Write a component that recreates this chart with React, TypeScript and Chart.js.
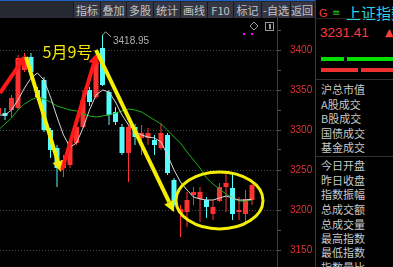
import React, { useEffect, useRef } from 'react';
import { Chart, registerables } from 'chart.js';

Chart.register(...registerables);

// ---- candle data (index 0 is partly cut off at the left edge) ----
const opens = [3320, 3321.25, 3325, 3327.5, 3375, 3391.25, 3350, 3362.5, 3300, 3277.5, 3252.5, 3256.25, 3283.75, 3303.75, 3350, 3341.25, 3402.5, 3347.5, 3322.5, 3303.75, 3271.25, 3303.75, 3290, 3290, 3287.5, 3277.5, 3293.75, 3237.5, 3196.25, 3197.5, 3218.75, 3213.75, 3212.5, 3195, 3211.25, 3228.75, 3227.5, 3197.5, 3195, 3212.5];
const highs = [3330, 3327.5, 3343.75, 3393.75, 3396.25, 3396.25, 3353.75, 3366.25, 3302.5, 3281.25, 3268.75, 3287.5, 3307.5, 3350, 3353.75, 3390, 3418.95, 3350, 3328.75, 3307.5, 3306.25, 3307.5, 3306.25, 3302.5, 3293.75, 3308.75, 3296.25, 3240, 3206.25, 3222.5, 3228.75, 3228.75, 3216.25, 3212.5, 3233.75, 3246.25, 3246.25, 3216.25, 3225, 3232];
const lows = [3317.5, 3312.5, 3316.25, 3325, 3372.5, 3365, 3337.5, 3297.5, 3265, 3228.75, 3241.25, 3252.5, 3281.25, 3302.5, 3330, 3338.75, 3355, 3306.25, 3306.25, 3268.75, 3235, 3281.25, 3268.75, 3281.25, 3268.75, 3275, 3243.75, 3203.75, 3166.25, 3178.75, 3206.25, 3185, 3190, 3187.5, 3210, 3197.5, 3187.5, 3187.5, 3181.25, 3206.25];
const closes = [3327.5, 3317.5, 3340, 3390, 3391.25, 3372.5, 3341.25, 3300, 3275, 3252.5, 3262.5, 3285, 3303.75, 3337.5, 3335, 3385, 3356.25, 3318.75, 3310, 3271.25, 3303.75, 3291.25, 3296.25, 3296.25, 3281.25, 3296.25, 3246.25, 3206.25, 3201.25, 3212.5, 3222.5, 3222.5, 3203.75, 3203.75, 3228.75, 3233.75, 3195, 3200, 3213.75, 3231.41];

// ---- moving averages ----
const ma5 = [3318.75, 3318.75, 3325, 3337.5, 3352.5, 3365, 3371.25, 3362.5, 3341.25, 3316.25, 3293.75, 3278.75, 3283.75, 3302.5, 3325, 3343.75, 3350, 3347.5, 3335, 3318.75, 3306.25, 3298.75, 3293.75, 3291.25, 3290, 3285, 3268.75, 3250, 3235, 3225, 3216.25, 3213.75, 3212.5, 3212.5, 3215, 3217.5, 3215, 3212.5, 3212.5, 3213.75];
const ma10 = [3300, 3307.5, 3315, 3325, 3332.5, 3337.5, 3341.25, 3338.75, 3335, 3330, 3327.5, 3325, 3323.75, 3320, 3317.5, 3316.25, 3317.5, 3318.75, 3321.25, 3323.75, 3326.25, 3325, 3322.5, 3317.5, 3312.5, 3307.5, 3300, 3291.25, 3283.75, 3272.5, 3262.5, 3252.5, 3240, 3232.5, 3226.25, 3220, 3215, 3211.25, 3211.25, 3212.5];

// ---- axis ----
const yTickValues = [3150, 3175, 3200, 3225, 3250, 3275, 3300, 3325, 3350, 3375, 3400, 3425];
const yLabelStep = 50;
const xRange = [0.2308, 42.846];
const yRange = [3128.75, 3440];

// ---- hand-drawn annotations, in data coordinates [index, price] ----
const arrowFrom = [[0.231, 3346.25], [4.231, 3391.25], [9.77, 3250], [15.0, 3400]];
const arrowTo = [[4.231, 3393.75], [9.615, 3247.5], [15.154, 3396.25], [27.0, 3197.5]];
const arrowColors = ['#ff1a1a', '#f4ee00', '#ff1a1a', '#f4ee00'];
const ellipseCenter = [34.0, 3212];
const ellipseRadii = [6.69, 35.6];
const noteText = '5月9号';
const notePos = [10.615, 3398];
const peakText = '3418.95';

// ---- UI texts ----
const toolbarLabels = ['指标', '叠加', '多股', '统计', '画线', 'F10', '标记', '-自选', '返回'];
const toolbarEdges = [73, 100, 126, 153, 180, 207, 233, 261, 290, 313];
const panelTitle = '上证指数';
const lastPrice = '3231.41';
const panelGroupA = ['沪总市值', 'A股成交', 'B股成交', '国债成交', '基金成交'];
const panelGroupAY = [88.5, 103.5, 118, 132.5, 147];
const panelGroupB = ['今日开盘', '昨日收盘', '指数振幅', '总成交额', '总成交量', '最高指数', '最低指数', '指数量比'];
const panelGroupBY = [164.5, 179.5, 193.5, 209, 223.5, 237.5, 252, 266.5];

const UP = '#ff3232';
const DOWN = '#54fcfc';
const YELLOW = '#f4ee00';

function drawArrow(ctx: CanvasRenderingContext2D, x1: number, y1: number, x2: number, y2: number, color: string) {
  const headLen = 11;
  const headHalf = 5.5;
  const ang = Math.atan2(y2 - y1, x2 - x1);
  const bx = x2 - headLen * Math.cos(ang);
  const by = y2 - headLen * Math.sin(ang);
  ctx.strokeStyle = color;
  ctx.lineWidth = 4;
  ctx.lineCap = 'butt';
  ctx.beginPath();
  ctx.moveTo(x1, y1);
  ctx.lineTo(bx, by);
  ctx.stroke();
  ctx.fillStyle = color;
  ctx.beginPath();
  ctx.moveTo(x2, y2);
  ctx.lineTo(bx + headHalf * Math.sin(ang), by - headHalf * Math.cos(ang));
  ctx.lineTo(bx - headHalf * Math.sin(ang), by + headHalf * Math.cos(ang));
  ctx.closePath();
  ctx.fill();
}

export default function App() {
  const canvasRef = useRef<HTMLCanvasElement | null>(null);

  useEffect(() => {
    const canvas = canvasRef.current;
    if (!canvas) return;
    const colors = closes.map((c, i) => (c >= opens[i] ? UP : DOWN));

    const overlay = {
      id: 'overlay',
      afterDatasetsDraw(chart: any) {
        const ctx: CanvasRenderingContext2D = chart.ctx;
        const xs = chart.scales.x;
        const ys = chart.scales.y;
        const px = (v: number) => xs.getPixelForValue(v);
        const py = (v: number) => ys.getPixelForValue(v);
        ctx.save();
        arrowFrom.forEach((f, k) => {
          const t = arrowTo[k];
          drawArrow(ctx, px(f[0]), py(f[1]), px(t[0]), py(t[1]), arrowColors[k]);
        });
        const cx = px(ellipseCenter[0]);
        const cy = py(ellipseCenter[1]);
        const rx = px(ellipseCenter[0] + ellipseRadii[0]) - cx;
        const ry = py(ellipseCenter[1] - ellipseRadii[1]) - cy;
        ctx.strokeStyle = YELLOW;
        ctx.lineWidth = 3;
        ctx.beginPath();
        ctx.ellipse(cx, cy, rx, ry, 0, 0, Math.PI * 2);
        ctx.stroke();
        ctx.fillStyle = '#f2e800';
        ctx.font = '16px "Noto Sans CJK SC", sans-serif';
        ctx.textAlign = 'center';
        ctx.textBaseline = 'middle';
        ctx.fillText(noteText, px(notePos[0]), py(notePos[1]));
        let hi = 0;
        highs.forEach((h, i) => { if (h > highs[hi]) hi = i; });
        const hx = px(hi);
        const hy = py(highs[hi]);
        ctx.strokeStyle = '#a8a8a8';
        ctx.lineWidth = 1;
        ctx.beginPath();
        ctx.moveTo(hx + 0.5, hy);
        ctx.lineTo(hx + 3, hy - 3);
        ctx.lineTo(hx + 8.5, hy + 2);
        ctx.stroke();
        ctx.fillStyle = '#b0b0b0';
        ctx.font = '10px "Liberation Sans", sans-serif';
        ctx.textAlign = 'left';
        ctx.textBaseline = 'middle';
        ctx.fillText(peakText, hx + 10.5, hy + 6);
        ctx.fillStyle = '#ff00ff';
        ctx.fillRect(243, 15, 2, 2);
        ctx.fillRect(251, 15, 2, 2);
        ctx.strokeStyle = '#9a9a9a';
        ctx.beginPath();
        ctx.moveTo(254, 4);
        ctx.lineTo(258, 8);
        ctx.lineTo(254, 12);
        ctx.lineTo(250, 8);
        ctx.closePath();
        ctx.stroke();
        ctx.strokeRect(265.5, 4.5, 8, 8);
        ctx.fillStyle = '#9a9a9a';
        ctx.fillRect(269, 6, 2, 5);
        ctx.restore();
      },
    };

    const chart = new Chart(canvas, {
      type: 'bar',
      data: {
        datasets: [
          {
            type: 'line',
            label: 'MA5',
            data: ma5.map((v, i) => ({ x: i, y: v })),
            borderColor: '#d6d6d6',
            borderWidth: 1,
            pointRadius: 0,
            tension: 0,
            order: 0,
          } as any,
          {
            type: 'line',
            label: 'MA10',
            data: ma10.map((v, i) => ({ x: i, y: v })),
            borderColor: '#1cb01c',
            borderWidth: 1,
            pointRadius: 0,
            tension: 0,
            order: 0,
          } as any,
          {
            type: 'bar',
            label: 'wick',
            data: lows.map((l, i) => ({ x: i, y: [l, highs[i]] })),
            backgroundColor: colors,
            grouped: false,
            maxBarThickness: 1,
            order: 2,
          } as any,
          {
            type: 'bar',
            label: 'body',
            data: opens.map((o, i) => ({ x: i, y: [o, closes[i]] })),
            backgroundColor: colors,
            grouped: false,
            barPercentage: 0.77,
            categoryPercentage: 1,
            minBarLength: 1,
            order: 1,
          } as any,
        ],
      },
      options: {
        animation: false,
        responsive: false,
        maintainAspectRatio: false,
        devicePixelRatio: 1,
        layout: { padding: 0 },
        plugins: { legend: { display: false }, tooltip: { enabled: false } },
        scales: {
          x: {
            type: 'linear',
            min: xRange[0],
            max: xRange[1],
            display: false,
            offset: false,
          },
          y: {
            type: 'linear',
            position: 'right',
            min: yRange[0],
            max: yRange[1],
            afterBuildTicks: (s: any) => {
              s.ticks = yTickValues.map((v) => ({ value: v }));
            },
            afterFit: (s: any) => {
              s.width = 38;
              s.paddingTop = 0;
              s.paddingBottom = 0;
            },
            ticks: {
              autoSkip: false,
              color: '#e03434',
              padding: 9,
              font: { size: 10, family: '"Liberation Sans", sans-serif' },
              callback: (v: any) => (Number(v) % yLabelStep === 0 ? String(v) : ''),
            },
            grid: {
              color: (c: any) => (c.tick && c.tick.value % yLabelStep === 0 ? '#4a4a4a' : 'rgba(0,0,0,0)'),
              tickColor: '#555555',
              tickLength: 4,
              lineWidth: 1,
            },
            border: { display: true, color: '#3c3c3c', width: 1, dash: [1, 2] },
          },
        },
      } as any,
      plugins: [overlay],
    });
    return () => chart.destroy();
  }, []);

  const cjk = '"Noto Sans CJK SC", "Liberation Sans", sans-serif';

  return (
    <div style={{ position: 'fixed', left: 0, top: 0, width: 393, height: 267, background: '#000', overflow: 'hidden', fontFamily: cjk }}>
      {/* toolbar */}
      <div style={{ position: 'absolute', left: 0, top: 0, width: 315, height: 18, background: '#262932', borderTop: '1px solid #1b62c2', boxSizing: 'border-box' }} />
      {toolbarLabels.map((t, i) => (
        <div
          key={t}
          style={{
            position: 'absolute',
            left: toolbarEdges[i] + 1,
            top: 2,
            width: toolbarEdges[i + 1] - toolbarEdges[i] - 1,
            height: 16,
            lineHeight: '16px',
            background: '#343743',
            color: '#c4c4c4',
            fontSize: 11,
            textAlign: 'center',
            whiteSpace: 'nowrap',
          }}
        >
          {t}
        </div>
      ))}
      {toolbarEdges.map((x) => (
        <div key={'s' + x} style={{ position: 'absolute', left: x, top: 2, width: 1, height: 16, background: '#17191e' }} />
      ))}
      <canvas ref={canvasRef} width={315} height={249} style={{ position: 'absolute', left: 0, top: 18, width: 315, height: 249 }} />
      {/* right panel */}
      <div style={{ position: 'absolute', left: 315, top: 0, width: 78, height: 267, background: '#000', borderLeft: '1px solid #3a3a3a', boxSizing: 'border-box' }}>
        <div style={{ position: 'absolute', left: 3, top: 5, height: 16, lineHeight: '16px', fontSize: 11, color: '#ff3a3a', fontFamily: '"Liberation Sans", sans-serif' }}>G</div>
        <div style={{ position: 'absolute', left: 16, top: 5, height: 16, lineHeight: '16px', fontSize: 10, color: '#29c229', fontFamily: '"DejaVu Sans", sans-serif' }}>≡</div>
        <div style={{ position: 'absolute', left: 30, top: 3, height: 20, lineHeight: '20px', fontSize: 15, color: '#2cd6e6', whiteSpace: 'nowrap' }}>{panelTitle}</div>
        <div style={{ position: 'absolute', left: 0, top: 18, width: 78, height: 1, background: '#222' }} />
        <div style={{ position: 'absolute', left: 4, top: 24, height: 18, lineHeight: '18px', fontSize: 13.5, color: '#ff3c3c', fontFamily: '"Liberation Sans", sans-serif' }}>{lastPrice}</div>
        <div style={{ position: 'absolute', left: 69, top: 25, height: 16, lineHeight: '16px', fontSize: 11, color: '#ff3c3c', fontFamily: '"DejaVu Sans", sans-serif' }}>▲</div>
        <div style={{ position: 'absolute', left: 5, top: 57, width: 23, height: 4, background: '#00e000' }} />
        <div style={{ position: 'absolute', left: 31, top: 57, width: 47, height: 4, background: '#00e000' }} />
        <div style={{ position: 'absolute', left: 5, top: 68, width: 37, height: 4, background: '#ee3030' }} />
        <div style={{ position: 'absolute', left: 45, top: 68, width: 33, height: 4, background: '#ee3030' }} />
        <div style={{ position: 'absolute', left: 0, top: 79, width: 78, height: 1, background: '#303030' }} />
        {panelGroupA.map((t, i) => (
          <div key={t} style={{ position: 'absolute', left: 5, top: panelGroupAY[i] - 7, height: 14, lineHeight: '14px', fontSize: 11, color: '#c8c8c8', whiteSpace: 'nowrap' }}>{t}</div>
        ))}
        <div style={{ position: 'absolute', left: 0, top: 156, width: 78, height: 1, background: '#303030' }} />
        {panelGroupB.map((t, i) => (
          <div key={t} style={{ position: 'absolute', left: 5, top: panelGroupBY[i] - 7, height: 14, lineHeight: '14px', fontSize: 11, color: '#c8c8c8', whiteSpace: 'nowrap' }}>{t}</div>
        ))}
      </div>
    </div>
  );
}
